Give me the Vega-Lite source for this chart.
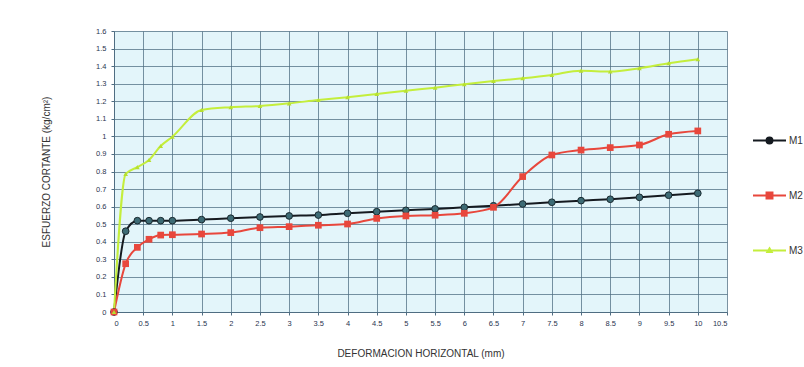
{
  "$schema": "https://vega.github.io/schema/vega-lite/v6.json",
  "width": 613,
  "height": 281,
  "autosize": {"type": "none"},
  "padding": {"left": 114, "top": 31, "right": 77, "bottom": 55},
  "background": "#ffffff",
  "config": {
    "font": "Liberation Sans",
    "view": {"fill": "#e3f5fa", "stroke": null},
    "axis": {
      "labelFont": "Liberation Sans",
      "titleFont": "Liberation Sans",
      "labelColor": "#2a3550",
      "titleColor": "#333333",
      "labelFontSize": 7.5,
      "titleFontSize": 10,
      "titleFontWeight": "normal",
      "gridColor": "#4f6d82",
      "gridOpacity": 0.75,
      "gridWidth": 1,
      "domainColor": "#4f6d82",
      "tickColor": "#4f6d82",
      "tickSize": 3
    }
  },
  "data": {
    "values": [
      {"serie": "M1", "def": 0, "esf": 0},
      {"serie": "M1", "def": 0.2, "esf": 0.46},
      {"serie": "M1", "def": 0.4, "esf": 0.52},
      {"serie": "M1", "def": 0.6, "esf": 0.52},
      {"serie": "M1", "def": 0.8, "esf": 0.52},
      {"serie": "M1", "def": 1.0, "esf": 0.52},
      {"serie": "M1", "def": 1.5, "esf": 0.526},
      {"serie": "M1", "def": 2, "esf": 0.534},
      {"serie": "M1", "def": 2.5, "esf": 0.541},
      {"serie": "M1", "def": 3, "esf": 0.547},
      {"serie": "M1", "def": 3.5, "esf": 0.552},
      {"serie": "M1", "def": 4, "esf": 0.562},
      {"serie": "M1", "def": 4.5, "esf": 0.571},
      {"serie": "M1", "def": 5, "esf": 0.579},
      {"serie": "M1", "def": 5.5, "esf": 0.587},
      {"serie": "M1", "def": 6, "esf": 0.596},
      {"serie": "M1", "def": 6.5, "esf": 0.605},
      {"serie": "M1", "def": 7, "esf": 0.615},
      {"serie": "M1", "def": 7.5, "esf": 0.625},
      {"serie": "M1", "def": 8, "esf": 0.634},
      {"serie": "M1", "def": 8.5, "esf": 0.642},
      {"serie": "M1", "def": 9, "esf": 0.653},
      {"serie": "M1", "def": 9.5, "esf": 0.665},
      {"serie": "M1", "def": 10, "esf": 0.676},
      {"serie": "M2", "def": 0, "esf": 0},
      {"serie": "M2", "def": 0.2, "esf": 0.275},
      {"serie": "M2", "def": 0.4, "esf": 0.368},
      {"serie": "M2", "def": 0.6, "esf": 0.414},
      {"serie": "M2", "def": 0.8, "esf": 0.438},
      {"serie": "M2", "def": 1.0, "esf": 0.44},
      {"serie": "M2", "def": 1.5, "esf": 0.444},
      {"serie": "M2", "def": 2, "esf": 0.452},
      {"serie": "M2", "def": 2.5, "esf": 0.48},
      {"serie": "M2", "def": 3, "esf": 0.486},
      {"serie": "M2", "def": 3.5, "esf": 0.494},
      {"serie": "M2", "def": 4, "esf": 0.501},
      {"serie": "M2", "def": 4.5, "esf": 0.533},
      {"serie": "M2", "def": 5, "esf": 0.547},
      {"serie": "M2", "def": 5.5, "esf": 0.551},
      {"serie": "M2", "def": 6, "esf": 0.562},
      {"serie": "M2", "def": 6.5, "esf": 0.596},
      {"serie": "M2", "def": 7, "esf": 0.771},
      {"serie": "M2", "def": 7.5, "esf": 0.894},
      {"serie": "M2", "def": 8, "esf": 0.922},
      {"serie": "M2", "def": 8.5, "esf": 0.936},
      {"serie": "M2", "def": 9, "esf": 0.951},
      {"serie": "M2", "def": 9.5, "esf": 1.012},
      {"serie": "M2", "def": 10, "esf": 1.031},
      {"serie": "M3", "def": 0, "esf": 0},
      {"serie": "M3", "def": 0.2, "esf": 0.786},
      {"serie": "M3", "def": 0.4, "esf": 0.825},
      {"serie": "M3", "def": 0.6, "esf": 0.866},
      {"serie": "M3", "def": 0.8, "esf": 0.945},
      {"serie": "M3", "def": 1.0, "esf": 0.998},
      {"serie": "M3", "def": 1.5, "esf": 1.15},
      {"serie": "M3", "def": 2, "esf": 1.166},
      {"serie": "M3", "def": 2.5, "esf": 1.173},
      {"serie": "M3", "def": 3, "esf": 1.188},
      {"serie": "M3", "def": 3.5, "esf": 1.207},
      {"serie": "M3", "def": 4, "esf": 1.223},
      {"serie": "M3", "def": 4.5, "esf": 1.241},
      {"serie": "M3", "def": 5, "esf": 1.26},
      {"serie": "M3", "def": 5.5, "esf": 1.277},
      {"serie": "M3", "def": 6, "esf": 1.297},
      {"serie": "M3", "def": 6.5, "esf": 1.315},
      {"serie": "M3", "def": 7, "esf": 1.331},
      {"serie": "M3", "def": 7.5, "esf": 1.35},
      {"serie": "M3", "def": 8, "esf": 1.374},
      {"serie": "M3", "def": 8.5, "esf": 1.369},
      {"serie": "M3", "def": 9, "esf": 1.388},
      {"serie": "M3", "def": 9.5, "esf": 1.416},
      {"serie": "M3", "def": 10, "esf": 1.439}
    ]
  },
  "encoding": {
    "x": {
      "field": "def",
      "type": "quantitative",
      "scale": {"domain": [0, 10.5], "nice": false, "zero": true},
      "axis": {
        "title": "DEFORMACION HORIZONTAL (mm)",
        "titlePadding": 22,
        "values": [0, 0.5, 1, 1.5, 2, 2.5, 3, 3.5, 4, 4.5, 5, 5.5, 6, 6.5, 7, 7.5, 8, 8.5, 9, 9.5, 10, 10.5],
        "format": "~g",
        "labelPadding": 4
      }
    },
    "y": {
      "field": "esf",
      "type": "quantitative",
      "scale": {"domain": [0, 1.6], "nice": false},
      "axis": {
        "title": "ESFUERZO CORTANTE (kg/cm²)",
        "titlePadding": 44,
        "values": [0, 0.1, 0.2, 0.3, 0.4, 0.5, 0.6, 0.7, 0.8, 0.9, 1, 1.1, 1.2, 1.3, 1.4, 1.5, 1.6],
        "format": "~g",
        "labelPadding": 5
      }
    },
    "color": {
      "field": "serie",
      "type": "nominal",
      "scale": {"domain": ["M1", "M2", "M3"], "range": ["#151a20", "#e8473c", "#c4ee3c"]},
      "legend": {
        "title": null,
        "orient": "none",
        "legendX": 638,
        "legendY": 92,
        "symbolType": "stroke",
        "symbolSize": 1089,
        "symbolStrokeWidth": 2,
        "rowPadding": 30,
        "labelFontSize": 10,
        "labelColor": "#333333",
        "labelOffset": 2,
        "encode": {
          "symbols": {
            "update": {
              "shape": {"signal": "datum.value === 'M1' ? 'M-1,0H1M0.18,0A0.18,0.18 0 1 1 -0.18,0A0.18,0.18 0 1 1 0.18,0Z' : datum.value === 'M2' ? 'M-1,0H1M-0.18,-0.18H0.18V0.18H-0.18Z' : 'M-1,0H1M0,-0.13L0.13,0.09H-0.13Z'"},
              "fill": {"signal": "datum.value === 'M1' ? '#3d6b75' : datum.value === 'M2' ? '#e8473c' : '#c4ee3c'"}
            }
          }
        }
      }
    }
  },
  "layer": [
    {
      "mark": {"type": "line", "strokeWidth": 2, "interpolate": "monotone"}
    },
    {
      "transform": [{"filter": "datum.serie === 'M1'"}],
      "mark": {"type": "point", "shape": "circle", "filled": true, "size": 45, "fill": "#3d6b75", "stroke": "#1a2a30", "strokeWidth": 1, "opacity": 1}
    },
    {
      "transform": [{"filter": "datum.serie === 'M2'"}],
      "mark": {"type": "point", "shape": "square", "filled": true, "size": 45, "fill": "#e8473c", "opacity": 1}
    },
    {
      "transform": [{"filter": "datum.serie === 'M3'"}],
      "mark": {"type": "point", "shape": "triangle-up", "filled": true, "size": 22, "fill": "#b6e030", "opacity": 1}
    }
  ]
}
